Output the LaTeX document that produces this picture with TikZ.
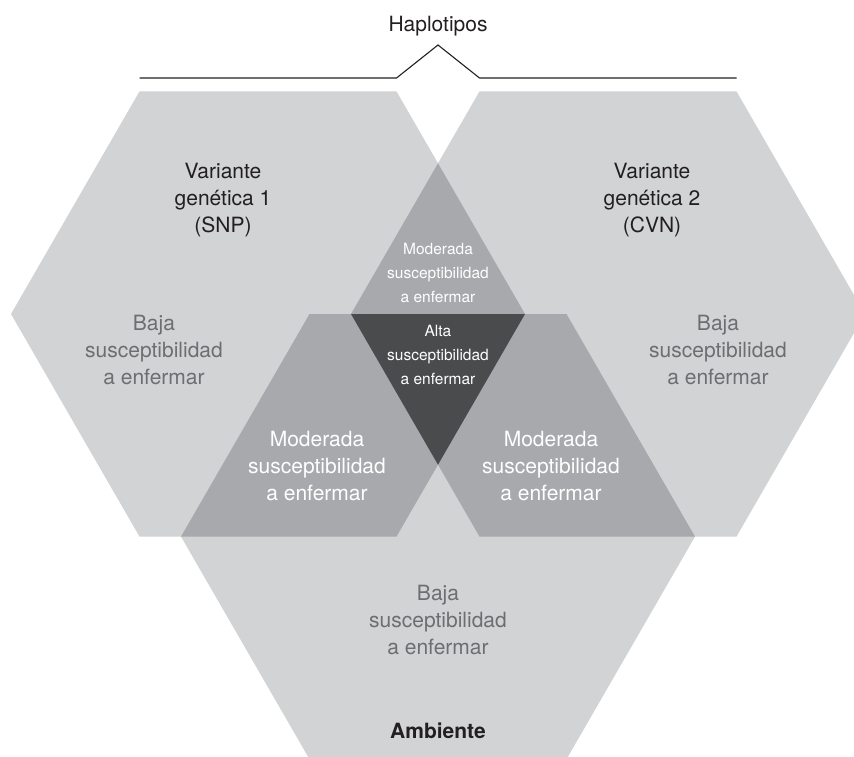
\documentclass[tikz,border=0pt]{standalone}
\usepackage{fontspec}
\setmainfont{TeX Gyre Heros}
\definecolor{lightg}{HTML}{D1D3D4}
\definecolor{medg}{HTML}{A7A9AC}
\definecolor{darkg}{HTML}{4A4B4D}
\definecolor{txtgray}{HTML}{6D6E71}
\definecolor{txtblack}{HTML}{231F20}
\begin{document}
\begin{tikzpicture}[x=1pt,y=-1pt,
  big/.style={font=\fontsize{21}{26.7}\selectfont, align=center, inner sep=0pt},
  small/.style={font=\fontsize{15.5}{24}\selectfont, align=center, inner sep=0pt, text=white},
  title/.style={big, text=txtblack},
  low/.style={big, text=txtgray},
  moder/.style={big, text=white},
  bracket/.style={draw=txtblack, line width=1.1pt}]
\clip (0,0) rectangle (854,757);
\def\hexL{(11,314) -- (139.5,91.4) -- (396.5,91.4) -- (525,314) -- (396.5,536.6) -- (139.5,536.6) -- cycle}
\def\hexR{(351,314) -- (479.5,91.4) -- (736.5,91.4) -- (865,314) -- (736.5,536.6) -- (479.5,536.6) -- cycle}
\def\hexB{(181,536.6) -- (309.5,314) -- (566.5,314) -- (695,536.6) -- (566.5,759.2) -- (309.5,759.2) -- cycle}
% base hexagons
\fill[lightg] \hexL;
\fill[lightg] \hexR;
\fill[lightg] \hexB;
% pairwise overlaps
\begin{scope}
  \clip \hexL;
  \fill[medg] \hexR;
  \fill[medg] \hexB;
\end{scope}
\begin{scope}
  \clip \hexR;
  \fill[medg] \hexB;
\end{scope}
% triple overlap
\begin{scope}
  \clip \hexL;
  \clip \hexR;
  \fill[darkg] \hexB;
\end{scope}
% bracket
\coordinate (bl) at (139.5,78);
\coordinate (bj1) at (396.5,78);
\coordinate (bapex) at (438,45);
\coordinate (bj2) at (479.5,78);
\coordinate (br) at (736.5,78);
\draw[bracket] (bl) -- (bj1) -- (bapex) -- (bj2) -- (br);
\node[big, text=txtblack, anchor=base] (hap) at (438,32) {Haplotipos};
% labels
\node[title] (var1) at (223,200) {Variante\\genética 1\\(SNP)};
\node[title] (var2) at (652,200) {Variante\\genética 2\\(CVN)};
\node[low] (bajaL) at (154,350) {Baja\\susceptibilidad\\a enfermar};
\node[low] (bajaR) at (718,350) {Baja\\susceptibilidad\\a enfermar};
\node[small] (modT) at (438,273) {Moderada\\susceptibilidad\\a enfermar};
\node[small] (alta) at (438,355) {Alta\\susceptibilidad\\a enfermar};
\node[moder] (modL) at (317,466) {Moderada\\susceptibilidad\\a enfermar};
\node[moder] (modR) at (551,466) {Moderada\\susceptibilidad\\a enfermar};
\node[low] (bajaB) at (438,620) {Baja\\susceptibilidad\\a enfermar};
\node[big, text=txtblack, font=\fontsize{21}{26.7}\selectfont\bfseries] (amb) at (438,731) {Ambiente};
\end{tikzpicture}
\end{document}
